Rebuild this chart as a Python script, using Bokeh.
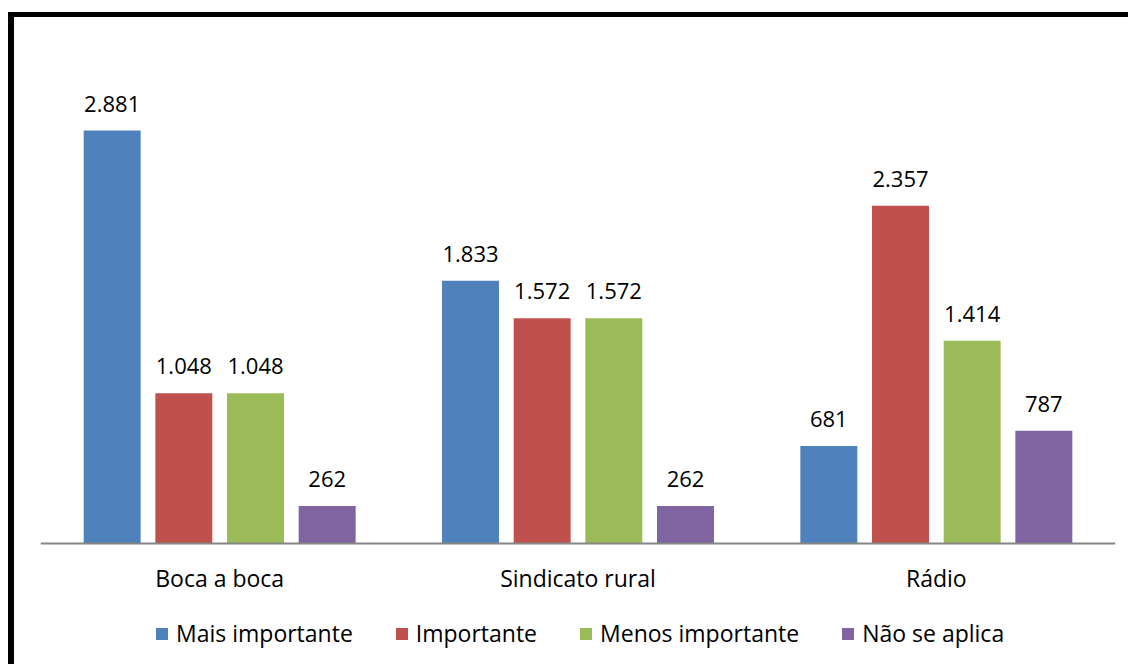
from bokeh.plotting import figure
from bokeh.models import ColumnDataSource, FactorRange, Range1d, Legend, LegendItem
from bokeh.transform import dodge
from bokeh.core.properties import value
from bokeh.embed import file_html
from bokeh.resources import INLINE

categories = ["Boca a boca", "Sindicato rural", "Rádio"]
series = ["Mais importante", "Importante", "Menos importante", "Não se aplica"]
mais_importante = [2881, 1833, 681]
importante = [1048, 1572, 2357]
menos_importante = [1048, 1572, 1414]
nao_se_aplica = [262, 262, 787]
colors = ["#4F81BD", "#C0504D", "#9BBB59", "#8064A2"]

values = [mais_importante, importante, menos_importante, nao_se_aplica]
FONT = "Open Sans"
FS = "22px"
FS_AX = "23px"

def fmt(v):
    return f"{v:,}".replace(",", ".")

W, H = 1120, 652
p = figure(x_range=FactorRange(*categories, range_padding=0), y_range=Range1d(-879, 3600),
           width=W, height=H, output_backend="svg", toolbar_location=None,
           min_border_left=26, min_border_right=19, min_border_top=10, min_border_bottom=0)
p.styles = {"margin-left": "8px", "margin-top": "12px",
            "border-left": "6px solid black", "border-top": "5px solid black"}

offsets = [-0.3, -0.1, 0.1, 0.3]
items = []
for name, vals, col, off in zip(series, values, colors, offsets):
    src = ColumnDataSource(dict(cat=categories, val=vals, lab=[fmt(v) for v in vals]))
    r = p.vbar(x=dodge("cat", off, range=p.x_range), top="val", width=0.159, source=src,
               fill_color=col, line_color=None)
    p.text(x=dodge("cat", off, range=p.x_range), y="val", text="lab", source=src,
           text_align="center", text_baseline="bottom", y_offset=-19,
           text_font_size=FS, text_font=value(FONT), text_color="#000000")
    items.append(LegendItem(label=name, renderers=[r]))

legend = Legend(items=items, orientation="horizontal", location=(114, 20),
                label_text_font_size=FS_AX, label_text_font=FONT, label_text_color="#000000",
                glyph_width=15, glyph_height=15, spacing=41, label_standoff=7,
                border_line_color=None, background_fill_alpha=0, padding=0, margin=0)
p.add_layout(legend, "center")

p.yaxis.visible = False
p.xgrid.grid_line_color = None
p.ygrid.grid_line_color = None
p.outline_line_color = None
p.xaxis.fixed_location = 0
p.xaxis.axis_line_color = "#868686"
p.xaxis.axis_line_width = 2
p.xaxis.major_tick_line_color = None
p.xaxis.minor_tick_line_color = None
p.xaxis.major_label_standoff = 12
p.xaxis.major_label_text_font_size = FS_AX
p.xaxis.major_label_text_font = FONT
p.xaxis.major_label_text_color = "#000000"

open("out.html", "w").write(file_html(p, INLINE))
